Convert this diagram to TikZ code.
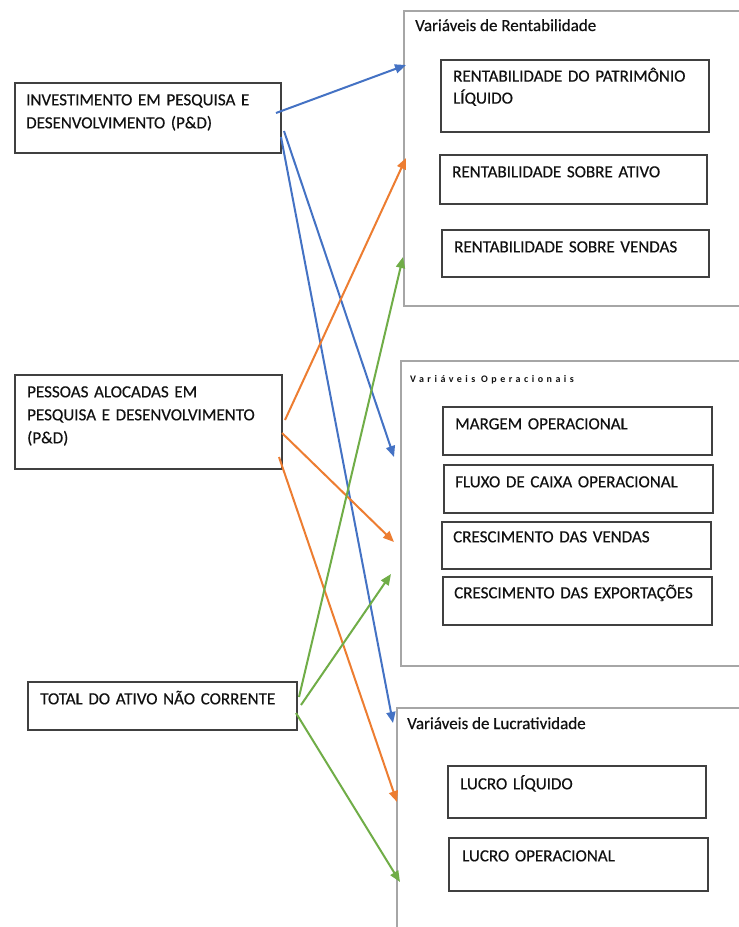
\documentclass[tikz,border=0pt]{standalone}
\usepackage{fontspec}
\setmainfont{Carlito}
\usetikzlibrary{arrows.meta}
\definecolor{cblue}{HTML}{4472C4}
\definecolor{corange}{HTML}{ED7D31}
\definecolor{cgreen}{HTML}{70AD47}
\definecolor{ink}{HTML}{111111}
\definecolor{boxline}{HTML}{404040}
\definecolor{grpline}{HTML}{A6A6A6}
\begin{document}
\begin{tikzpicture}[x=1pt,y=-1pt,
 box/.style={draw=boxline, line width=1.5pt, rectangle, inner sep=0pt, anchor=north west},
 grp/.style={draw=grpline, line width=2pt, rectangle, inner sep=0pt, anchor=north west},
 boxtext/.style={anchor=north west, inner sep=0pt, text width=300pt, align=left, font=\fontsize{17}{23}\selectfont\addfontfeatures{FakeBold=0.4}, text=ink},
 grptitle/.style={anchor=base west, inner sep=0pt, font=\fontsize{17}{23}\selectfont\addfontfeatures{FakeBold=0.4}, text=ink},
 link/.style={line width=2pt, -{Triangle[length=11pt,width=9pt]}}
]
\useasboundingbox[fill=white] (0,0) rectangle (739,927);

% group frames (extend past the right edge)
\node[grp, minimum width=400pt, minimum height=295pt] (g1) at (403,10) {};
\node[grp, minimum width=400pt, minimum height=305pt] (g2) at (400,360) {};
\node[grp, minimum width=400pt, minimum height=300pt] (g3) at (396,707) {};

\node[grptitle] (t1) at (415,31) {Variáveis de Rentabilidade};
\node[grptitle, font=\fontsize{10}{12}\selectfont\bfseries\addfontfeatures{LetterSpace=35}] (t2) at (410,382) {Variáveis Operacionais};
\node[grptitle] (t3) at (407,729) {Variáveis de Lucratividade};

% left boxes
\node[box, minimum width=266pt, minimum height=70pt] (inv) at (14,82) {};
\node[boxtext] (invt) at ([xshift=12pt,yshift=-7pt]inv.north west) {\strut INVESTIMENTO EM PESQUISA E\\DESENVOLVIMENTO (P\&D)};

\node[box, minimum width=267pt, minimum height=94pt] (pes) at (14,374) {};
\node[boxtext] (pest) at ([xshift=13pt,yshift=-7pt]pes.north west) {\strut PESSOAS ALOCADAS EM\\PESQUISA E DESENVOLVIMENTO\\(P\&D)};

\node[box, minimum width=269pt, minimum height=48pt] (tot) at (27,681) {};
\node[boxtext] (tott) at ([xshift=13pt,yshift=-7pt]tot.north west) {\strut TOTAL DO ATIVO NÃO CORRENTE};

% group 1 boxes
\node[box, minimum width=268pt, minimum height=72pt] (rpl) at (440,59) {};
\node[boxtext, font=\fontsize{17}{22}\selectfont\addfontfeatures{FakeBold=0.4}] (rplt) at ([xshift=13pt,yshift=-7pt]rpl.north west) {\strut RENTABILIDADE DO PATRIMÔNIO\\LÍQUIDO};

\node[box, minimum width=267pt, minimum height=49pt] (rsa) at (439,154) {};
\node[boxtext] (rsat) at ([xshift=13pt,yshift=-7pt]rsa.north west) {\strut RENTABILIDADE SOBRE ATIVO};

\node[box, minimum width=267pt, minimum height=47pt] (rsv) at (441,229) {};
\node[boxtext] (rsvt) at ([xshift=13pt,yshift=-7pt]rsv.north west) {\strut RENTABILIDADE SOBRE VENDAS};

% group 2 boxes
\node[box, minimum width=269pt, minimum height=48pt] (mo) at (442,406) {};
\node[boxtext] (mot) at ([xshift=13pt,yshift=-7pt]mo.north west) {\strut MARGEM OPERACIONAL};

\node[box, minimum width=269pt, minimum height=48pt] (fco) at (443,464) {};
\node[boxtext] (fcot) at ([xshift=12pt,yshift=-7pt]fco.north west) {\strut FLUXO DE CAIXA OPERACIONAL};

\node[box, minimum width=269pt, minimum height=47pt] (cv) at (441,521) {};
\node[boxtext] (cvt) at ([xshift=12pt,yshift=-5pt]cv.north west) {\strut CRESCIMENTO DAS VENDAS};

\node[box, minimum width=269pt, minimum height=48pt] (ce) at (442,576) {};
\node[boxtext] (cet) at ([xshift=12pt,yshift=-6pt]ce.north west) {\strut CRESCIMENTO DAS EXPORTAÇÕES};

% group 3 boxes
\node[box, minimum width=258pt, minimum height=52pt] (ll) at (447,765) {};
\node[boxtext] (llt) at ([xshift=13pt,yshift=-8pt]ll.north west) {\strut LUCRO LÍQUIDO};

\node[box, minimum width=259pt, minimum height=53pt] (lo) at (448,837) {};
\node[boxtext] (lot) at ([xshift=14pt,yshift=-8pt]lo.north west) {\strut LUCRO OPERACIONAL};

% connector end points
\coordinate (b1s) at (276,113); \coordinate (b1e) at (406,65);
\coordinate (b2s) at (284,131); \coordinate (b2e) at (394,457);
\coordinate (b3s) at (281,137); \coordinate (b3e) at (393,723);
\coordinate (o1s) at (285,420); \coordinate (o1e) at (406,158);
\coordinate (o2s) at (282,433); \coordinate (o2e) at (394,542);
\coordinate (o3s) at (279,457); \coordinate (o3e) at (397,802);
\coordinate (v1s) at (299,697); \coordinate (v1e) at (403,257);
\coordinate (v2s) at (301,705); \coordinate (v2e) at (391,574);
\coordinate (v3s) at (296,713); \coordinate (v3e) at (400,882);

\draw[link, cblue] (b1s) -- (b1e);
\draw[link, cblue] (b2s) -- (b2e);
\draw[link, cblue] (b3s) -- (b3e);
\draw[link, corange] (o1s) -- (o1e);
\draw[link, corange] (o2s) -- (o2e);
\draw[link, corange] (o3s) -- (o3e);
\draw[link, cgreen] (v1s) -- (v1e);
\draw[link, cgreen] (v2s) -- (v2e);
\draw[link, cgreen] (v3s) -- (v3e);
\end{tikzpicture}
\end{document}
